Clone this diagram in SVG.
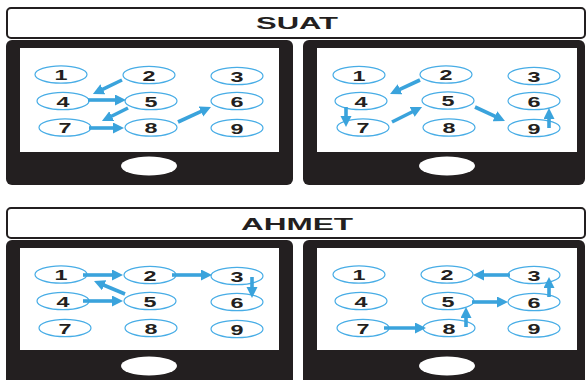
<svg xmlns="http://www.w3.org/2000/svg" width="587" height="380" viewBox="0 0 587 380">
<defs>
<marker id="ah" markerUnits="userSpaceOnUse" markerWidth="12" markerHeight="12" refX="2" refY="5.5" orient="auto">
<path d="M0,0 L11,5.5 L0,11 z" fill="#3aa3dc"/>
</marker>
<style>
.title{fill:#fff;stroke:#231f20;stroke-width:2}
.tt{font-family:"Liberation Sans",Arial,sans-serif;font-weight:bold;font-size:16px;fill:#231f20;text-anchor:middle}
.phone{fill:#231f20}
.screen{fill:#fff}
.home{fill:#fff}
.key ellipse{fill:#fff;stroke:#48ade6;stroke-width:1.2}
.key text{font-family:"Liberation Sans",Arial,sans-serif;font-weight:bold;font-size:15.5px;fill:#231f20;text-anchor:middle}
.arr line{stroke:#3aa3dc;stroke-width:3.6;marker-end:url(#ah)}
</style>
</defs>
<rect width="587" height="380" fill="#fff"/>

<g id="title-suat"><rect class="title" x="7" y="8" width="578" height="30" rx="4"/><text class="tt" x="297" y="29" textLength="82" lengthAdjust="spacingAndGlyphs">SUAT</text></g>
<g id="title-ahmet"><rect class="title" x="7" y="208" width="578" height="30" rx="4"/><text class="tt" x="297" y="230" textLength="112" lengthAdjust="spacingAndGlyphs">AHMET</text></g>

<g id="phone-1"><rect class="phone" x="6" y="40" width="287" height="145" rx="6"/><rect class="screen" x="20" y="48" width="259" height="104"/><ellipse class="home" cx="149" cy="166" rx="28" ry="9.5"/></g>
<g id="phone-2"><rect class="phone" x="303" y="40" width="282" height="145" rx="6"/><rect class="screen" x="317" y="48" width="260" height="104"/><ellipse class="home" cx="447" cy="166" rx="28" ry="9.5"/></g>
<g id="phone-3"><rect class="phone" x="6" y="240" width="287" height="150" rx="6"/><rect class="screen" x="20" y="248" width="259" height="102"/><ellipse class="home" cx="149" cy="366" rx="28" ry="9.5"/></g>
<g id="phone-4"><rect class="phone" x="303" y="240" width="282" height="150" rx="6"/><rect class="screen" x="317" y="248" width="260" height="102"/><ellipse class="home" cx="447" cy="366" rx="28" ry="9.5"/></g>

<!-- phone 1 keys -->
<g id="p1-k1" class="key"><ellipse cx="61" cy="74.5" rx="26" ry="8.7"/><text x="61" y="80" textLength="13" lengthAdjust="spacingAndGlyphs">1</text></g>
<g id="p1-k2" class="key"><ellipse cx="149" cy="75" rx="26" ry="8.7"/><text x="149" y="80.5" textLength="13" lengthAdjust="spacingAndGlyphs">2</text></g>
<g id="p1-k3" class="key"><ellipse cx="237" cy="76" rx="26" ry="8.7"/><text x="237" y="81.5" textLength="13" lengthAdjust="spacingAndGlyphs">3</text></g>
<g id="p1-k4" class="key"><ellipse cx="63" cy="101" rx="26" ry="8.7"/><text x="63" y="106.5" textLength="13" lengthAdjust="spacingAndGlyphs">4</text></g>
<g id="p1-k5" class="key"><ellipse cx="151" cy="101" rx="26" ry="8.7"/><text x="151" y="106.5" textLength="13" lengthAdjust="spacingAndGlyphs">5</text></g>
<g id="p1-k6" class="key"><ellipse cx="237" cy="101" rx="26" ry="8.7"/><text x="237" y="106.5" textLength="13" lengthAdjust="spacingAndGlyphs">6</text></g>
<g id="p1-k7" class="key"><ellipse cx="65" cy="127.5" rx="26" ry="8.7"/><text x="65" y="133" textLength="13" lengthAdjust="spacingAndGlyphs">7</text></g>
<g id="p1-k8" class="key"><ellipse cx="151" cy="127.5" rx="26" ry="8.7"/><text x="151" y="133" textLength="13" lengthAdjust="spacingAndGlyphs">8</text></g>
<g id="p1-k9" class="key"><ellipse cx="237" cy="128" rx="26" ry="8.7"/><text x="237" y="133.5" textLength="13" lengthAdjust="spacingAndGlyphs">9</text></g>

<!-- phone 2 keys -->
<g id="p2-k1" class="key"><ellipse cx="359" cy="75" rx="26" ry="8.7"/><text x="359" y="80.5" textLength="13" lengthAdjust="spacingAndGlyphs">1</text></g>
<g id="p2-k2" class="key"><ellipse cx="446" cy="74.5" rx="26" ry="8.7"/><text x="446" y="80" textLength="13" lengthAdjust="spacingAndGlyphs">2</text></g>
<g id="p2-k3" class="key"><ellipse cx="534" cy="76" rx="26" ry="8.7"/><text x="534" y="81.5" textLength="13" lengthAdjust="spacingAndGlyphs">3</text></g>
<g id="p2-k4" class="key"><ellipse cx="361" cy="101" rx="26" ry="8.7"/><text x="361" y="106.5" textLength="13" lengthAdjust="spacingAndGlyphs">4</text></g>
<g id="p2-k5" class="key"><ellipse cx="448" cy="100.5" rx="26" ry="8.7"/><text x="448" y="106" textLength="13" lengthAdjust="spacingAndGlyphs">5</text></g>
<g id="p2-k6" class="key"><ellipse cx="534" cy="101" rx="26" ry="8.7"/><text x="534" y="106.5" textLength="13" lengthAdjust="spacingAndGlyphs">6</text></g>
<g id="p2-k7" class="key"><ellipse cx="363" cy="127.5" rx="26" ry="8.7"/><text x="363" y="133" textLength="13" lengthAdjust="spacingAndGlyphs">7</text></g>
<g id="p2-k8" class="key"><ellipse cx="449" cy="127.5" rx="26" ry="8.7"/><text x="449" y="133" textLength="13" lengthAdjust="spacingAndGlyphs">8</text></g>
<g id="p2-k9" class="key"><ellipse cx="534" cy="128" rx="26" ry="8.7"/><text x="534" y="133.5" textLength="13" lengthAdjust="spacingAndGlyphs">9</text></g>

<!-- phone 3 keys -->
<g id="p3-k1" class="key"><ellipse cx="61" cy="274.5" rx="26" ry="8.7"/><text x="61" y="280" textLength="13" lengthAdjust="spacingAndGlyphs">1</text></g>
<g id="p3-k2" class="key"><ellipse cx="150" cy="275" rx="26" ry="8.7"/><text x="150" y="280.5" textLength="13" lengthAdjust="spacingAndGlyphs">2</text></g>
<g id="p3-k3" class="key"><ellipse cx="237" cy="276" rx="26" ry="8.7"/><text x="237" y="281.5" textLength="13" lengthAdjust="spacingAndGlyphs">3</text></g>
<g id="p3-k4" class="key"><ellipse cx="63" cy="301" rx="26" ry="8.7"/><text x="63" y="306.5" textLength="13" lengthAdjust="spacingAndGlyphs">4</text></g>
<g id="p3-k5" class="key"><ellipse cx="150" cy="301" rx="26" ry="8.7"/><text x="150" y="306.5" textLength="13" lengthAdjust="spacingAndGlyphs">5</text></g>
<g id="p3-k6" class="key"><ellipse cx="237" cy="302" rx="26" ry="8.7"/><text x="237" y="307.5" textLength="13" lengthAdjust="spacingAndGlyphs">6</text></g>
<g id="p3-k7" class="key"><ellipse cx="65" cy="328" rx="26" ry="8.7"/><text x="65" y="333.5" textLength="13" lengthAdjust="spacingAndGlyphs">7</text></g>
<g id="p3-k8" class="key"><ellipse cx="151" cy="328" rx="26" ry="8.7"/><text x="151" y="333.5" textLength="13" lengthAdjust="spacingAndGlyphs">8</text></g>
<g id="p3-k9" class="key"><ellipse cx="237" cy="329" rx="26" ry="8.7"/><text x="237" y="334.5" textLength="13" lengthAdjust="spacingAndGlyphs">9</text></g>

<!-- phone 4 keys -->
<g id="p4-k1" class="key"><ellipse cx="359" cy="274.5" rx="26" ry="8.7"/><text x="359" y="280" textLength="13" lengthAdjust="spacingAndGlyphs">1</text></g>
<g id="p4-k2" class="key"><ellipse cx="447" cy="274.5" rx="26" ry="8.7"/><text x="447" y="280" textLength="13" lengthAdjust="spacingAndGlyphs">2</text></g>
<g id="p4-k3" class="key"><ellipse cx="534" cy="275" rx="26" ry="8.7"/><text x="534" y="280.5" textLength="13" lengthAdjust="spacingAndGlyphs">3</text></g>
<g id="p4-k4" class="key"><ellipse cx="361" cy="301" rx="26" ry="8.7"/><text x="361" y="306.5" textLength="13" lengthAdjust="spacingAndGlyphs">4</text></g>
<g id="p4-k5" class="key"><ellipse cx="448" cy="301" rx="26" ry="8.7"/><text x="448" y="306.5" textLength="13" lengthAdjust="spacingAndGlyphs">5</text></g>
<g id="p4-k6" class="key"><ellipse cx="534" cy="302" rx="26" ry="8.7"/><text x="534" y="307.5" textLength="13" lengthAdjust="spacingAndGlyphs">6</text></g>
<g id="p4-k7" class="key"><ellipse cx="363" cy="328" rx="26" ry="8.7"/><text x="363" y="333.5" textLength="13" lengthAdjust="spacingAndGlyphs">7</text></g>
<g id="p4-k8" class="key"><ellipse cx="449" cy="328" rx="26" ry="8.7"/><text x="449" y="333.5" textLength="13" lengthAdjust="spacingAndGlyphs">8</text></g>
<g id="p4-k9" class="key"><ellipse cx="534" cy="328.5" rx="26" ry="8.7"/><text x="534" y="334" textLength="13" lengthAdjust="spacingAndGlyphs">9</text></g>

<g id="connectors" class="arr">
<!-- phone 1 -->
<line x1="122" y1="80" x2="101" y2="90.1"/>
<line x1="88" y1="100" x2="117" y2="100"/>
<line x1="128" y1="108" x2="110" y2="117"/>
<line x1="89" y1="128" x2="115" y2="128"/>
<line x1="178" y1="122" x2="202.8" y2="110.7"/>
<!-- phone 2 -->
<line x1="420" y1="80" x2="398.2" y2="90.2"/>
<line x1="346" y1="107" x2="346" y2="118"/>
<line x1="392" y1="122" x2="414" y2="111"/>
<line x1="475" y1="107" x2="496.8" y2="117.2"/>
<line x1="549" y1="128" x2="549" y2="117"/>
<!-- phone 3 -->
<line x1="83" y1="275" x2="114" y2="275"/>
<line x1="172" y1="275" x2="203" y2="275"/>
<line x1="252" y1="277" x2="252" y2="289"/>
<line x1="125" y1="294" x2="102.3" y2="284.5"/>
<line x1="83" y1="301" x2="114" y2="301"/>
<!-- phone 4 -->
<line x1="384" y1="328" x2="417" y2="328"/>
<line x1="466" y1="327" x2="466" y2="316"/>
<line x1="472" y1="302" x2="499" y2="302"/>
<line x1="549" y1="297" x2="549" y2="286"/>
<line x1="510" y1="275" x2="482" y2="275"/>
</g>
</svg>
